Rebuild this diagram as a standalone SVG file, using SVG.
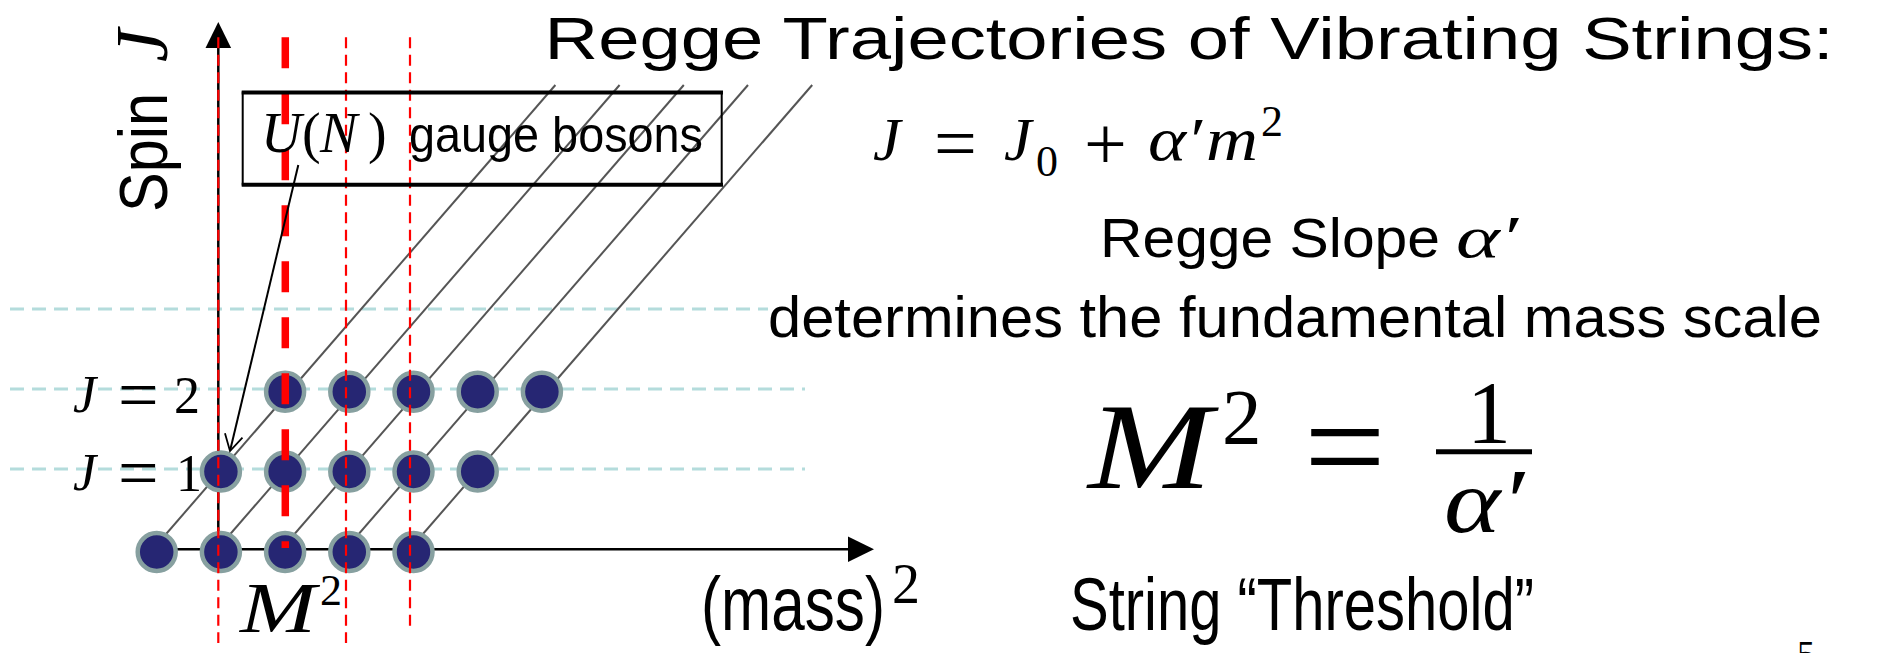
<svg xmlns="http://www.w3.org/2000/svg" width="1879" height="653" viewBox="0 0 1879 653">
<style>
.sans{font-family:"Liberation Sans","Arial",sans-serif;fill:#000}
.mi{font-family:"Liberation Serif","DejaVu Serif",serif;font-style:italic;fill:#000}
.mr{font-family:"Liberation Serif","DejaVu Serif",serif;fill:#000}
.cyan{stroke:#B4DCDC;stroke-width:3;stroke-dasharray:14 8;fill:none}
.diag{stroke:#555;stroke-width:2;fill:none}
.dot{fill:#262673;stroke:#87A0A0;stroke-width:4.5}
.rthin{stroke:#FF0000;stroke-width:2.2;stroke-dasharray:11 6.5;fill:none}
.rthick{stroke:#FF0000;stroke-width:7.5;stroke-dasharray:31 25;fill:none}
.axis{stroke:#000;stroke-width:2.5;fill:none}
</style>
<defs>
<marker id="openArrow" markerWidth="20" markerHeight="20" refX="18" refY="10" orient="auto" markerUnits="userSpaceOnUse">
<path d="M2,1 L18,10 L2,19" fill="none" stroke="#000" stroke-width="1.8"/>
</marker>
</defs>

<g id="gridlines">
<line class="cyan" x1="10" y1="309" x2="768" y2="309"/>
<line class="cyan" x1="10" y1="389" x2="805" y2="389"/>
<line class="cyan" x1="10" y1="469" x2="805" y2="469"/>
</g>

<g id="trajectories">
<line class="diag" x1="150.5" y1="552" x2="555.4" y2="85"/>
<line class="diag" x1="214.7" y1="552" x2="619.6" y2="85"/>
<line class="diag" x1="278.9" y1="552" x2="683.8" y2="85"/>
<line class="diag" x1="343.1" y1="552" x2="748" y2="85"/>
<line class="diag" x1="407.3" y1="552" x2="812.2" y2="85"/>
</g>

<g id="axes">
<line class="axis" x1="218.3" y1="46" x2="218.3" y2="549"/>
<polygon points="218.3,22 205.5,48 231.1,48" fill="#000"/>
<line class="axis" x1="157" y1="549.3" x2="850" y2="549.3"/>
<polygon points="874,549.3 848,536.5 848,562" fill="#000"/>
</g>

<g id="row-labels">
<text class="mi" x="73" y="412" font-size="52">J</text>
<text class="mr" x="118" y="419" font-size="72">=</text>
<text class="mr" x="174" y="413" font-size="52">2</text>
<text class="mi" x="73" y="490" font-size="52">J</text>
<text class="mr" x="118" y="497" font-size="72">=</text>
<text class="mr" x="176" y="491" font-size="52">1</text>
</g>

<g id="states">
<circle class="dot" cx="156.7" cy="552" r="19"/>
<circle class="dot" cx="220.9" cy="552" r="19"/>
<circle class="dot" cx="285.1" cy="552" r="19"/>
<circle class="dot" cx="349.3" cy="552" r="19"/>
<circle class="dot" cx="413.5" cy="552" r="19"/>
<circle class="dot" cx="220.9" cy="471.5" r="19"/>
<circle class="dot" cx="285.1" cy="471.5" r="19"/>
<circle class="dot" cx="349.3" cy="471.5" r="19"/>
<circle class="dot" cx="413.5" cy="471.5" r="19"/>
<circle class="dot" cx="477.7" cy="471.5" r="19"/>
<circle class="dot" cx="285.1" cy="391.7" r="19"/>
<circle class="dot" cx="349.3" cy="391.7" r="19"/>
<circle class="dot" cx="413.5" cy="391.7" r="19"/>
<circle class="dot" cx="477.7" cy="391.7" r="19"/>
<circle class="dot" cx="541.9" cy="391.7" r="19"/>
</g>

<g id="thresholds">
<line class="rthin" x1="218.3" y1="37.3" x2="218.3" y2="643"/>
<line class="rthin" x1="346" y1="37.3" x2="346" y2="643"/>
<line class="rthin" x1="410" y1="37.3" x2="410" y2="626"/>
<line class="rthick" x1="285.3" y1="37.3" x2="285.3" y2="548"/>
</g>

<g id="gauge-box">
<rect x="242.7" y="92.5" width="479" height="92" fill="none" stroke="#000" stroke-width="2"/>
<line x1="241.7" y1="92.5" x2="723" y2="92.5" stroke="#000" stroke-width="4"/>
<line x1="241.7" y1="184.7" x2="723" y2="184.7" stroke="#000" stroke-width="4"/>
<text class="mi" x="261" y="152" font-size="56">U</text>
<text class="mr" x="302" y="152" font-size="56">(</text>
<text class="mi" x="320" y="152" font-size="56">N</text>
<text class="mr" x="368" y="152" font-size="56">)</text>
<text class="sans" x="409" y="151.7" font-size="50" textLength="294" lengthAdjust="spacingAndGlyphs">gauge bosons</text>
</g>

<g id="connectors">
<line x1="298.3" y1="165" x2="230" y2="451" stroke="#000" stroke-width="2" marker-end="url(#openArrow)"/>
</g>

<g id="axis-labels">
<g transform="translate(167,212) rotate(-90)">
<text class="sans" x="0" y="0" font-size="68" textLength="119" lengthAdjust="spacingAndGlyphs">Spin</text>
<text class="mi" x="150" y="0" font-size="74">J</text>
</g>
<text class="mi" x="240" y="631.7" font-size="72" textLength="76" lengthAdjust="spacingAndGlyphs">M</text>
<text class="mr" x="320" y="605" font-size="44">2</text>
<text class="sans" x="701" y="630" font-size="76" textLength="184" lengthAdjust="spacingAndGlyphs">(mass)</text>
<text class="mr" x="892" y="603" font-size="56">2</text>
</g>

<g id="title">
<text class="sans" x="544.6" y="59.3" font-size="60" textLength="1289" lengthAdjust="spacingAndGlyphs">Regge Trajectories of Vibrating Strings:</text>
</g>

<g id="formula-trajectory">
<text class="mi" x="873" y="160" font-size="62">J</text>
<text class="mr" x="934" y="168.5" font-size="76">=</text>
<text class="mi" x="1004" y="160" font-size="62">J</text>
<text class="mr" x="1036" y="176" font-size="44">0</text>
<text class="mr" x="1084" y="169" font-size="76">+</text>
<text class="mi" x="1148" y="160" font-size="62" textLength="54" lengthAdjust="spacingAndGlyphs">α′</text>
<text class="mi" x="1206" y="160" font-size="62" textLength="52" lengthAdjust="spacingAndGlyphs">m</text>
<text class="mr" x="1261" y="136" font-size="44">2</text>
</g>

<g id="slope-text">
<text class="sans" x="1100" y="256.7" font-size="55" textLength="340" lengthAdjust="spacingAndGlyphs">Regge Slope</text>
<text class="mi" x="1456" y="256.7" font-size="60" textLength="62" lengthAdjust="spacingAndGlyphs">α′</text>
<text class="sans" x="768" y="337.3" font-size="57" textLength="1054" lengthAdjust="spacingAndGlyphs">determines the fundamental mass scale</text>
</g>

<g id="formula-mass">
<text class="mi" x="1088" y="488.3" font-size="122" textLength="124" lengthAdjust="spacingAndGlyphs">M</text>
<text class="mr" x="1222" y="443" font-size="79">2</text>
<text class="mr" x="1304" y="495" font-size="145">=</text>
<line x1="1436" y1="451.7" x2="1532" y2="451.7" stroke="#000" stroke-width="5"/>
<text class="mr" x="1489" y="441.7" font-size="88" text-anchor="middle">1</text>
<text class="mi" x="1444" y="531.7" font-size="92" textLength="80" lengthAdjust="spacingAndGlyphs">α′</text>
</g>

<g id="threshold-text">
<text class="sans" x="1070" y="630" font-size="74" textLength="464" lengthAdjust="spacingAndGlyphs">String “Threshold”</text>
<text class="mr" x="1797" y="666" font-size="36">5</text>
</g>
</svg>
